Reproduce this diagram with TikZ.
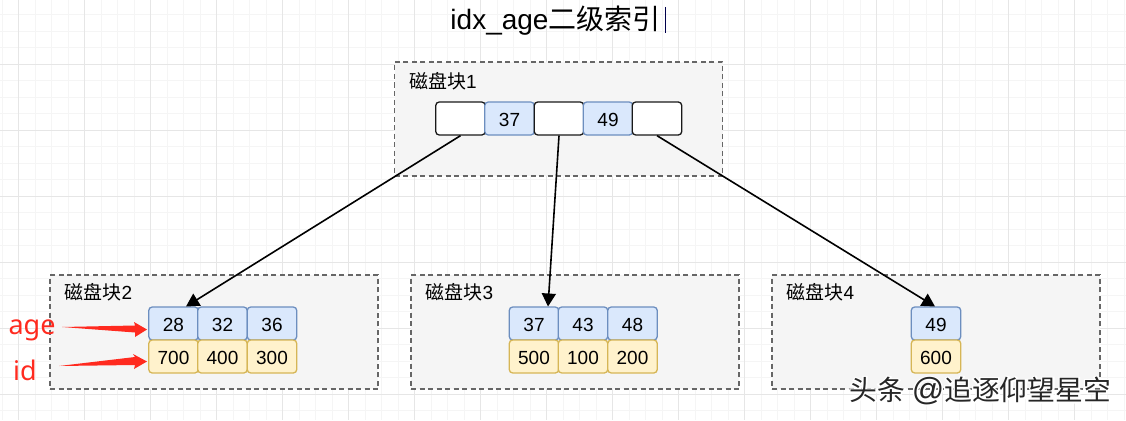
\documentclass[tikz,border=0pt]{standalone}
\usepackage{fontspec}
\setmainfont{Liberation Sans}
\newfontfamily\cjk{Noto Sans CJK SC}
\newfontfamily\lblfont{Noto Sans}
\usetikzlibrary{arrows.meta}
\definecolor{blueF}{HTML}{DAE8FC}
\definecolor{blueD}{HTML}{6C8EBF}
\definecolor{yelF}{HTML}{FFF2CC}
\definecolor{yelD}{HTML}{D6B656}
\definecolor{gridA}{HTML}{F5F5F5}
\definecolor{gridB}{HTML}{E6E6E6}
\definecolor{redA}{HTML}{FF2A1F}
\definecolor{boxD}{HTML}{666666}
\definecolor{boxF}{HTML}{F5F5F5}
\tikzset{
 x=1pt,y=-1pt,
 cell/.style={draw,rounded corners=3.5pt,line width=1.3pt,minimum width=49.5pt,minimum height=33pt,inner sep=0pt,text height=15.6pt,text depth=0pt,font=\fontsize{19}{22}\selectfont,anchor=center},
 keycell/.style={cell,draw=blueD,fill=blueF},
 idcell/.style={cell,draw=yelD,fill=yelF},
 ptrcell/.style={cell,draw=black!90,fill=white},
 blockbox/.style={draw=boxD,dash pattern=on 5pt off 3.5pt,line width=1.2pt,fill=boxF,minimum width=328pt,minimum height=114pt,inner sep=0pt},
 blocklabel/.style={font=\fontsize{19}{22}\selectfont,inner sep=0pt,anchor=west},
 link/.style={line width=1.6pt,-{Triangle[length=13pt,width=14pt]}},
 redarrow/.style={fill=redA,draw=none},
 redlabel/.style={text=redA,font=\lblfont\fontsize{27}{30}\selectfont,inner sep=0pt},
 wm/.style={font=\cjk\fontsize{27.8}{30}\selectfont,inner sep=0pt,anchor=west,text=black!85},
}
\newcommand{\wmtext}{头条\hspace{7pt}{\rmfamily\fontsize{32}{32}\selectfont @}追逐仰望星空}
\begin{document}
\begin{tikzpicture}
\useasboundingbox (0,0) rectangle (1126,420);
\fill[white] (0,0) rectangle (1126,420);
% background grid
\foreach \i in {0,...,68}{\draw[gridA,line width=.7pt] ({2+16.5*\i},0) -- ({2+16.5*\i},420);}
\foreach \i in {0,...,25}{\draw[gridA,line width=.7pt] (0,{14.5+16.5*\i}) -- (1126,{14.5+16.5*\i});}
\foreach \i in {0,...,17}{\draw[gridB,line width=.7pt] ({18.5+66*\i},0) -- ({18.5+66*\i},420);}
\foreach \i in {0,...,6}{\draw[gridB,line width=.7pt] (0,{64+66*\i}) -- (1126,{64+66*\i});}
% title
\node[inner sep=0pt,anchor=center] (title) at (555.5,21) {\fontsize{28}{32}\selectfont idx\_age{\cjk 二级索引}};
\draw[black!70!blue,line width=1pt] (665.5,7) -- (665.5,33);
% blocks
\node[blockbox] (b1) at (558.5,119) {};
\node[blockbox] (b2) at (214,332) {};
\node[blockbox] (b3) at (575,332) {};
\node[blockbox] (b4) at (936,332) {};
\node[blocklabel] (l1) at (409,81) {{\cjk 磁盘块}1};
\node[blocklabel] (l2) at (64.5,292) {{\cjk 磁盘块}2};
\node[blocklabel] (l3) at (425.5,292) {{\cjk 磁盘块}3};
\node[blocklabel] (l4) at (786.5,292) {{\cjk 磁盘块}4};
% root
\node[ptrcell] (p1) at (460.5,118.5) {};
\node[keycell] (k1) at (509.5,118.5) {37};
\node[ptrcell] (p2) at (559,118.5) {};
\node[keycell] (k2) at (608,118.5) {49};
\node[ptrcell] (p3) at (657,118.5) {};
% block 2
\node[keycell] (a1) at (173.5,323.5) {28};
\node[keycell] (a2) at (222.5,323.5) {32};
\node[keycell] (a3) at (272,323.5) {36};
\node[idcell] (i1) at (173.5,356.5) {700};
\node[idcell] (i2) at (222.5,356.5) {400};
\node[idcell] (i3) at (272,356.5) {300};
% block 3
\node[keycell] (c1) at (534,323.5) {37};
\node[keycell] (c2) at (583,323.5) {43};
\node[keycell] (c3) at (632.5,323.5) {48};
\node[idcell] (j1) at (534,356.5) {500};
\node[idcell] (j2) at (583,356.5) {100};
\node[idcell] (j3) at (632.5,356.5) {200};
% block 4
\node[keycell] (d1) at (936,323.5) {49};
\node[idcell] (m1) at (936,356.5) {600};
% links
\coordinate (t1) at (186,306.5);
\coordinate (t2) at (548,306.5);
\coordinate (t3) at (935,306.5);
\draw[link] (p1.south) -- (t1);
\draw[link] (p2.south) -- (t2);
\draw[link] (p3.south) -- (t3);
% red labels and arrows
\node[redlabel] (age) at (32,330) {age};
\node[redlabel] (idl) at (25,370) {id};
\coordinate (ageT) at (147,329.5);
\coordinate (idT) at (147,361.5);
\fill[redarrow] (62,327) -- (135,325.5) -- (134,322) -- (ageT) -- (135,337) -- (135,332.5) -- cycle;
\fill[redarrow] (59,366) -- (135,357) -- (133,354) -- (idT) -- (134,369) -- (135,365) -- cycle;
% watermark: white outline under the black text
\node[wm] (mark) at (849,391) {\rlap{\special{pdf:code q 1 Tr 3 w 1 1 1 RG}\wmtext\special{pdf:code Q 0 Tr}}\wmtext};
\end{tikzpicture}
\end{document}
